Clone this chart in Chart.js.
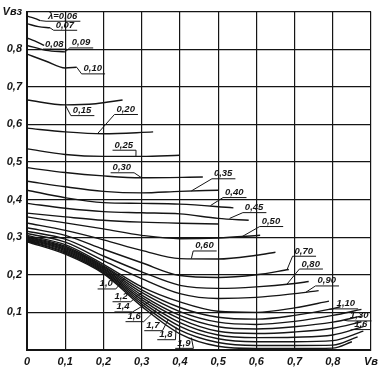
<!DOCTYPE html>
<html>
<head>
<meta charset="utf-8">
<script src="https://cdn.jsdelivr.net/npm/chart.js@4.4.0/dist/chart.umd.min.js"></script>
<style>
  html, body { margin: 0; padding: 0; background: #fff; }
  canvas { display: block; }
</style>
</head>
<body>
<canvas id="nomo" width="383" height="372"></canvas>
<script>
// tick labels
var xTickValues = [0, 0.1, 0.2, 0.3, 0.4, 0.5, 0.6, 0.7, 0.8, 0.9];
var xTickLabels = ['0', '0,1', '0,2', '0,3', '0,4', '0,5', '0,6', '0,7', '0,8', 'Vв'];
var yTickValues = [0, 0.1, 0.2, 0.3, 0.4, 0.5, 0.6, 0.7, 0.8, 0.9];
var yTickLabels = ['', '0,1', '0,2', '0,3', '0,4', '0,5', '0,6', '0,7', '0,8', 'Vвз'];

// curves, [Vв, Vвз]
var lam006 = [[0, 0.888], [0.02, 0.882], [0.035, 0.876]];
var lam007 = [[0, 0.868], [0.03, 0.86], [0.06, 0.857]];
var lam008 = [[0, 0.83], [0.02, 0.822], [0.045, 0.81]];
var lam009 = [[0, 0.81], [0.05, 0.797], [0.1, 0.793]];
var lam010 = [[0, 0.787], [0.05, 0.768], [0.1, 0.75], [0.13, 0.752]];
var lam015 = [[0, 0.665], [0.1, 0.652], [0.18, 0.655], [0.25, 0.665]];
var lam020 = [[0, 0.59], [0.1, 0.58], [0.2, 0.575], [0.33, 0.58]];
var lam025 = [[0, 0.535], [0.1, 0.52], [0.2, 0.515], [0.3, 0.515], [0.4, 0.518]];
var lam030 = [[0, 0.485], [0.1, 0.472], [0.2, 0.463], [0.3, 0.458], [0.46, 0.46]];
var lam035 = [[0, 0.449], [0.1, 0.434], [0.2, 0.422], [0.3, 0.418], [0.4, 0.422], [0.5, 0.425]];
var lam040 = [[0, 0.425], [0.1, 0.405], [0.2, 0.392], [0.3, 0.39], [0.4, 0.388], [0.54, 0.378]];
var lam045 = [[0, 0.39], [0.1, 0.377], [0.2, 0.368], [0.3, 0.365], [0.4, 0.362], [0.5, 0.35], [0.58, 0.345]];
var lam047 = [[0, 0.364], [0.1, 0.354], [0.2, 0.345], [0.3, 0.34], [0.4, 0.337], [0.5, 0.335]];
var lam050 = [[0, 0.354], [0.1, 0.338], [0.2, 0.322], [0.3, 0.305], [0.4, 0.296], [0.5, 0.298], [0.61, 0.305]];
var lam060 = [[0, 0.338], [0.1, 0.318], [0.2, 0.293], [0.3, 0.265], [0.4, 0.243], [0.5, 0.242], [0.6, 0.252], [0.65, 0.26]];
var lam070 = [[0, 0.325], [0.1, 0.305], [0.2, 0.268], [0.3, 0.232], [0.4, 0.198], [0.5, 0.193], [0.6, 0.2], [0.685, 0.214]];
var lam080 = [[0, 0.316], [0.1, 0.295], [0.2, 0.25], [0.3, 0.208], [0.4, 0.172], [0.5, 0.164], [0.6, 0.168], [0.7, 0.177], [0.737, 0.182]];
var lam090 = [[0, 0.31], [0.1, 0.287], [0.2, 0.238], [0.3, 0.19], [0.4, 0.15], [0.5, 0.137], [0.6, 0.14], [0.7, 0.15], [0.763, 0.158]];
var lam100 = [[0, 0.305], [0.1, 0.28], [0.2, 0.228], [0.3, 0.168], [0.4, 0.128], [0.5, 0.103], [0.6, 0.1], [0.7, 0.112], [0.79, 0.13]];
var lam110 = [[0, 0.302], [0.1, 0.276], [0.2, 0.224], [0.3, 0.16], [0.4, 0.113], [0.5, 0.087], [0.6, 0.082], [0.7, 0.092], [0.8, 0.11], [0.82, 0.115]];
var lam120 = [[0, 0.3], [0.1, 0.273], [0.2, 0.221], [0.3, 0.153], [0.4, 0.102], [0.5, 0.074], [0.6, 0.068], [0.7, 0.076], [0.8, 0.092], [0.875, 0.108]];
var lam130 = [[0, 0.298], [0.1, 0.27], [0.2, 0.218], [0.3, 0.146], [0.4, 0.092], [0.5, 0.062], [0.6, 0.056], [0.7, 0.062], [0.8, 0.074], [0.875, 0.09]];
var lam140 = [[0, 0.296], [0.1, 0.267], [0.2, 0.215], [0.3, 0.14], [0.4, 0.083], [0.5, 0.05], [0.6, 0.044], [0.7, 0.048], [0.8, 0.058], [0.875, 0.075]];
var lam160 = [[0, 0.294], [0.1, 0.264], [0.2, 0.212], [0.3, 0.134], [0.4, 0.073], [0.5, 0.04], [0.6, 0.033], [0.7, 0.034], [0.8, 0.04], [0.88, 0.062]];
var lam170 = [[0, 0.292], [0.1, 0.261], [0.2, 0.209], [0.3, 0.128], [0.4, 0.063], [0.5, 0.03], [0.6, 0.022], [0.7, 0.022], [0.8, 0.025], [0.88, 0.05]];
var lam180 = [[0, 0.29], [0.1, 0.258], [0.2, 0.206], [0.3, 0.122], [0.4, 0.053], [0.5, 0.02], [0.6, 0.012], [0.7, 0.012], [0.8, 0.013], [0.865, 0.035]];
var lam190 = [[0, 0.288], [0.1, 0.255], [0.2, 0.203], [0.3, 0.116], [0.4, 0.043], [0.5, 0.01], [0.6, 0.004], [0.7, 0.004], [0.8, 0.005], [0.85, 0.022]];

var curves = [lam006, lam007, lam008, lam009, lam010, lam015, lam020, lam025, lam030,
  lam035, lam040, lam045, lam047, lam050, lam060, lam070, lam080, lam090,
  lam100, lam110, lam120, lam130, lam140, lam160, lam170, lam180, lam190];

// curve labels (text, where the text sits, where its leader points)
var labelTexts = ['λ=0,06', '0,07', '0,08', '0,09', '0,10', '0,15', '0,20', '0,25', '0,30',
  '0,35', '0,40', '0,45', '0,50', '0,60', '0,70', '0,80', '0,90', '1,10', '1,30', '1,6',
  '1,0', '1,2', '1,4', '1,6', '1,7', '1,8', '1,9'];
var labelPos = [[0.055, 0.881], [0.075, 0.857], [0.047, 0.807], [0.117, 0.81], [0.148, 0.741],
  [0.12, 0.63], [0.234, 0.633], [0.229, 0.538], [0.224, 0.478],
  [0.489, 0.462], [0.518, 0.412], [0.57, 0.372], [0.614, 0.335], [0.44, 0.27],
  [0.7, 0.256], [0.718, 0.222], [0.76, 0.177], [0.81, 0.116], [0.845, 0.084], [0.856, 0.061],
  [0.19, 0.169], [0.229, 0.135], [0.234, 0.108], [0.263, 0.082], [0.312, 0.058], [0.346, 0.034], [0.393, 0.011]];
var labelTarget = [[0.035, 0.876], [0.06, 0.857], null, [0.1, 0.793], [0.13, 0.752],
  [0.1, 0.652], [0.185, 0.576], [0.285, 0.515], [0.3, 0.458],
  [0.43, 0.423], [0.48, 0.384], [0.53, 0.35], [0.56, 0.3], [0.43, 0.243],
  [0.68, 0.213], [0.68, 0.175], [0.73, 0.154], [0.79, 0.108], [0.83, 0.079], [0.845, 0.052],
  [0.255, 0.19], [0.3, 0.153], [0.32, 0.128], [0.34, 0.11], [0.37, 0.082], [0.39, 0.06], [0.43, 0.033]];

var INK = '#151515';
var tickFont = { family: '"Liberation Sans", Arial, sans-serif', size: 11, style: 'italic', weight: 'bold' };

var paperBg = {
  id: 'paperBg',
  beforeDraw: function(chart) {
    var ctx = chart.ctx;
    ctx.save();
    ctx.fillStyle = '#fff';
    ctx.fillRect(0, 0, chart.width, chart.height);
    ctx.restore();
  }
};

var curveLabels = {
  id: 'curveLabels',
  afterDatasetsDraw: function(chart) {
    var ctx = chart.ctx, xs = chart.scales.x, ys = chart.scales.y;
    ctx.save();
    ctx.font = 'italic bold 9.5px "Liberation Sans", Arial, sans-serif';
    ctx.fillStyle = INK;
    ctx.strokeStyle = INK;
    ctx.lineWidth = 1;
    ctx.textBaseline = 'alphabetic';
    labelTexts.forEach(function(t, i) {
      var p = labelPos[i], tg = labelTarget[i];
      var px = xs.getPixelForValue(p[0]), py = ys.getPixelForValue(p[1]);
      var w = ctx.measureText(t).width;
      ctx.fillText(t, px, py);
      var u0 = px - 2, u1 = px + w + 3, uy = py + 2.5;
      ctx.beginPath();
      ctx.moveTo(u0, uy);
      ctx.lineTo(u1, uy);
      if (tg) {
        var tx = xs.getPixelForValue(tg[0]), ty = ys.getPixelForValue(tg[1]);
        var sx = tx < px + w / 2 ? u0 : u1;
        ctx.moveTo(sx, uy);
        ctx.lineTo(tx, ty);
      }
      ctx.stroke();
    });
    ctx.restore();
  }
};

new Chart(document.getElementById('nomo').getContext('2d'), {
  type: 'line',
  data: {
    datasets: curves.map(function(c) {
      return {
        data: c,
        borderColor: INK,
        borderWidth: 1.4,
        pointRadius: 0,
        fill: false,
        cubicInterpolationMode: 'monotone'
      };
    })
  },
  options: {
    responsive: false,
    animation: false,
    layout: { padding: { top: 9, right: 10, left: 0, bottom: 0 } },
    plugins: { legend: { display: false }, tooltip: { enabled: false } },
    scales: {
      x: {
        type: 'linear', min: 0, max: 0.9,
        afterBuildTicks: function(s) { s.ticks = xTickValues.map(function(v) { return { value: v }; }); },
        afterFit: function(s) { s.height = 22; },
        ticks: {
          callback: function(v, i) { return xTickLabels[i]; },
          font: tickFont, color: INK, padding: 5, maxRotation: 0, autoSkip: false
        },
        grid: { color: INK, lineWidth: 1.2, drawTicks: false },
        border: { color: INK, width: 2 }
      },
      y: {
        type: 'linear', min: 0, max: 0.9,
        afterBuildTicks: function(s) { s.ticks = yTickValues.map(function(v) { return { value: v }; }); },
        afterFit: function(s) { s.width = 27; },
        ticks: {
          callback: function(v, i) { return yTickLabels[i]; },
          font: tickFont, color: INK, padding: 5, autoSkip: false
        },
        grid: { color: INK, lineWidth: 1.2, drawTicks: false },
        border: { color: INK, width: 2 }
      }
    }
  },
  plugins: [paperBg, curveLabels]
});
</script>
</body>
</html>
